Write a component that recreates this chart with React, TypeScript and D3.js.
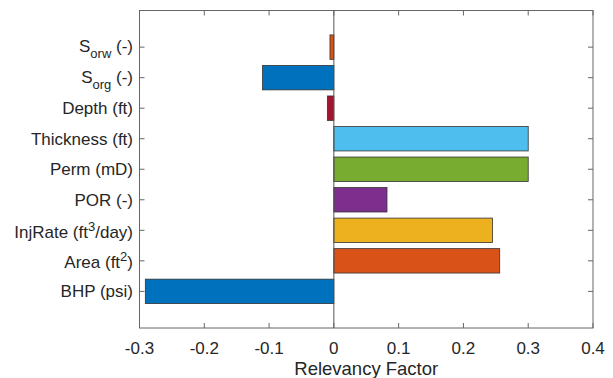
import React from "react";
import * as d3 from "d3";

const categories = [
  "BHP (psi)",
  "Area (ft^{2})",
  "InjRate (ft^{3}/day)",
  "POR (-)",
  "Perm (mD)",
  "Thickness (ft)",
  "Depth (ft)",
  "S_{org} (-)",
  "S_{orw} (-)",
];
const values = [-0.291, 0.256, 0.245, 0.082, 0.3, 0.3, -0.01, -0.11, -0.006];
const colors = [
  "#0072BD",
  "#D95319",
  "#EDB120",
  "#7E2F8E",
  "#77AC30",
  "#4DBEEE",
  "#A2142F",
  "#0072BD",
  "#D95319",
];
const xTicks = [-0.3, -0.2, -0.1, 0, 0.1, 0.2, 0.3, 0.4];
const xTickLabels = ["-0.3", "-0.2", "-0.1", "0", "0.1", "0.2", "0.3", "0.4"];
const xLabel = "Relevancy Factor";

const W = 613;
const H = 378;
const M = { left: 139.5, right: 593, top: 10.5, bottom: 328 };
const FONT = "'Liberation Sans', Arial, Helvetica, sans-serif";
const AX = "#262626";

type Tok = { t: string; k: "n" | "sub" | "sup" };
function parse(s: string): Tok[] {
  const out: Tok[] = [];
  const re = /([_^])\{([^}]*)\}/g;
  let last = 0;
  let m: RegExpExecArray | null;
  while ((m = re.exec(s))) {
    if (m.index > last) out.push({ t: s.slice(last, m.index), k: "n" });
    out.push({ t: m[2], k: m[1] === "_" ? "sub" : "sup" });
    last = m.index + m[0].length;
  }
  if (last < s.length) out.push({ t: s.slice(last), k: "n" });
  return out;
}

export default function App() {
  const x = d3.scaleLinear().domain([-0.3, 0.4]).range([M.left, M.right]);
  const y = d3.scaleLinear().domain([-0.2, 10.2]).range([M.bottom, M.top]);
  const bw = y(0) - y(0.8);
  const tl = 5;
  const yIdx = d3.range(1, categories.length + 1);

  return (
    <svg
      width={W}
      height={H}
      style={{ position: "absolute", left: 0, top: 0, background: "#fff" }}
      fontFamily={FONT}
    >
      <rect x={0} y={0} width={W} height={H} fill="#fff" />
      {values.map((v, i) => (
        <rect
          key={i}
          x={Math.min(x(0), x(v))}
          y={y(i + 1) - bw / 2}
          width={Math.abs(x(v) - x(0))}
          height={bw}
          fill={colors[i]}
          stroke="#333"
          strokeWidth={0.8}
        />
      ))}
      <line x1={x(0)} x2={x(0)} y1={M.top} y2={M.bottom} stroke="#555" strokeWidth={1} />
      <rect
        x={M.left}
        y={M.top}
        width={M.right - M.left}
        height={M.bottom - M.top}
        fill="none"
        stroke="#666"
        strokeWidth={1}
      />
      {xTicks.map((t, i) => (
        <g key={i}>
          <line x1={x(t)} x2={x(t)} y1={M.bottom} y2={M.bottom - tl} stroke="#666" />
          <line x1={x(t)} x2={x(t)} y1={M.top} y2={M.top + tl} stroke="#666" />
          <text x={x(t)} y={353.5} textAnchor="middle" fontSize={17} fill={AX}>
            {xTickLabels[i]}
          </text>
        </g>
      ))}
      {yIdx.map((c, i) => {
        const toks = parse(categories[i]);
        const hasSub = toks.some((t) => t.k === "sub");
        const hasSup = toks.some((t) => t.k === "sup");
        const base = y(c) + (hasSub ? 5 : hasSup ? 7.5 : 6);
        let cur = 0;
        return (
          <g key={i}>
            <line x1={M.left} x2={M.left + tl} y1={y(c)} y2={y(c)} stroke="#666" />
            <line x1={M.right} x2={M.right - tl} y1={y(c)} y2={y(c)} stroke="#666" />
            <text x={133} y={base} textAnchor="end" fontSize={17} fill={AX}>
              {toks.map((tk, j) => {
                const target = tk.k === "sub" ? 6 : tk.k === "sup" ? -7 : 0;
                const dy = target - cur;
                cur = target;
                return (
                  <tspan key={j} dy={dy} fontSize={tk.k === "n" ? 17 : 13}>
                    {tk.t}
                  </tspan>
                );
              })}
            </text>
          </g>
        );
      })}
      <text
        x={(M.left + M.right) / 2}
        y={375}
        textAnchor="middle"
        fontSize={18.5}
        fill={AX}
      >
        {xLabel}
      </text>
    </svg>
  );
}
